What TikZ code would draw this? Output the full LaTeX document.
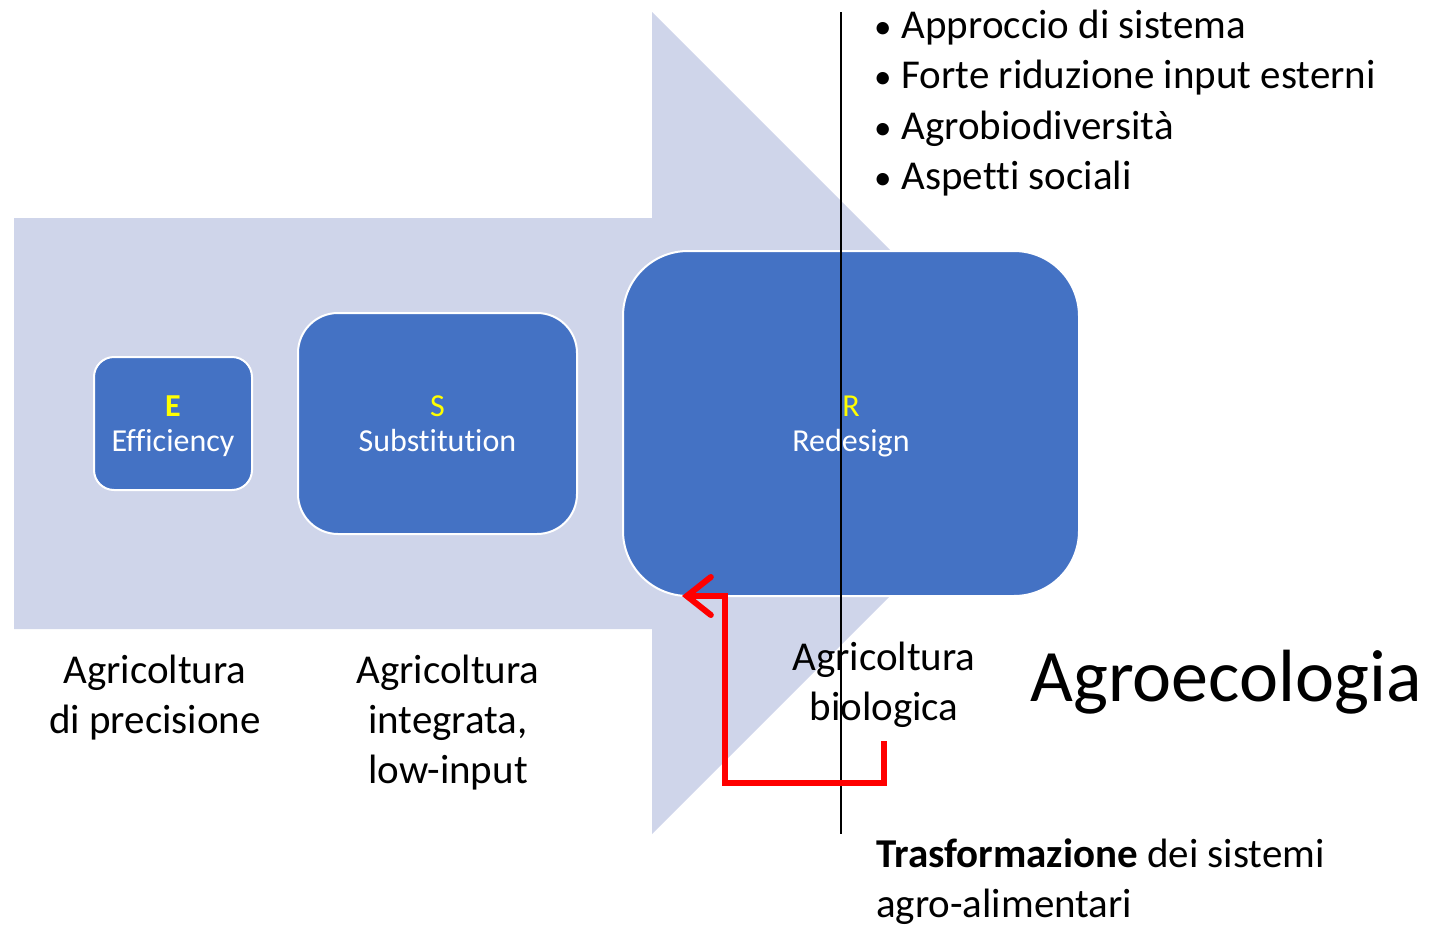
\documentclass[tikz,border=0pt]{standalone}
\usepackage{fontspec}
\setmainfont{Carlito}[Ligatures=NoCommon]
\usepackage{xcolor}
\usetikzlibrary{arrows.meta}
\definecolor{arrowbg}{HTML}{CFD5EA}
\definecolor{boxblue}{HTML}{4472C4}
\definecolor{lblyellow}{HTML}{FFFF00}
\definecolor{fbred}{HTML}{FF0000}
\newcommand{\pt}{{\fontsize{35}{35}\selectfont•}\hspace{10pt}}
\newcommand{\boxstrut}{\rule{0pt}{30.5pt}}

\begin{document}
\begin{tikzpicture}[x=1pt,y=-1pt]
            \tikzset{
            esr box/.style={draw=white,line width=2pt,fill=boxblue,text=white,align=center,inner sep=0,font=\fontsize{32}{35}\selectfont},
            esr text/.style={align=center,inner sep=0,font=\fontsize{41}{50}\selectfont},
            fb arrow/.style={draw=fbred,line width=6pt,-{Straight Barb[length=24pt,width=38pt,line cap=round]}}
            }
            \useasboundingbox (0,0) rectangle (1436,926);
            % background arrow
            \fill[arrowbg] (14,218) -- (652,218) -- (652,12) -- (1063,423) -- (652,834) -- (652,629) -- (14,629) -- cycle;

            \node[esr box,minimum width=158pt,minimum height=133pt,rounded corners=20pt] (E) at (173,423.5) {{\color{lblyellow}\textbf{E}}\boxstrut\\Efficiency\strut};
            \node[esr box,minimum width=279pt,minimum height=221pt,rounded corners=40pt] (S) at (437.5,423.5) {{\color{lblyellow}S}\boxstrut\\Substitution\strut};
            \node[esr box,minimum width=456pt,minimum height=345pt,rounded corners=65pt] (R) at (851,423.5) {{\color{lblyellow}R}\boxstrut\\Redesign\strut};

            \coordinate (line top) at (841,12);
            \coordinate (line bottom) at (841,834);
            \draw[line width=1.3pt] (line top) -- (line bottom);

            \node[esr text,align=left,anchor=west] (points) at (874,103) {\pt Approccio di sistema\\[0.6pt]\pt Forte riduzione input esterni\\[0.6pt]\pt Agrobiodiversità\\[0.6pt]\pt Aspetti sociali};

            \node[esr text] (precision) at (155,698) {Agricoltura\\di precisione};
            \node[esr text] (integrated) at (448,723) {Agricoltura\\integrata,\\low-input};
            \node[esr text] (organic) at (884,685) {Agricoltura\\biologica};
            \node[inner sep=0,font=\fontsize{74}{80}\selectfont] (agroeco) at (1226,682) {Agroecologia};
            \node[esr text,align=left,anchor=west] (transform) at (876,882) {\textbf{Trasformazione} dei sistemi\\agro-alimentari};

            \coordinate (fb start) at (884,741);
            \coordinate (fb tip) at (682,596);
            \draw[fb arrow] (fb start) -- ++(0,42) -| (725,596) -- (fb tip);
        \end{tikzpicture}
\end{document}
